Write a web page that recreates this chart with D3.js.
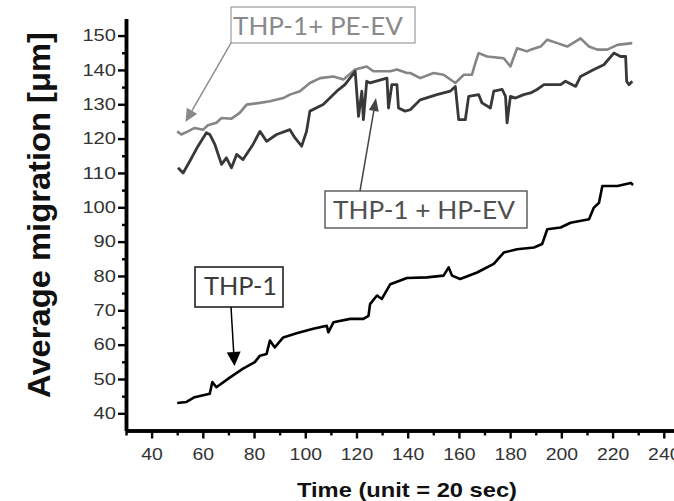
<!DOCTYPE html>
<html>
<head>
<meta charset="utf-8">
<script src="https://cdn.jsdelivr.net/npm/d3@7"></script>
<style>
  html, body { margin: 0; padding: 0; background: #fff; }
  svg { display: block; overflow: hidden; }
</style>
</head>
<body>
<svg id="chart" width="674" height="501"></svg>
<script>
// ---------------- DATA ----------------
const thp1Time = [50, 53.6, 56.8, 62.7, 63.7, 65.3, 70.5, 75.7, 80.3, 82.3, 84.9, 86.2, 88.1, 91.4, 96.6, 103.1, 108.4, 109, 111, 117.5, 122.7, 124.7, 125.3, 128, 129.9, 133.2, 139.7, 147.5, 154, 156, 157.3, 160.5, 167.1, 173.6, 177.5, 182.7, 189.3, 192.5, 194.5, 199.7, 203.6, 210.8, 212.7, 214.7, 216, 221.9, 227.1, 228];
const thp1Values = [43, 43.3, 44.7, 45.7, 49.1, 47.6, 50.4, 53, 54.9, 56.8, 57.3, 61.2, 59.2, 62.1, 63.3, 64.6, 65.5, 63.6, 66.5, 67.5, 67.5, 68.4, 71.8, 74.3, 73.3, 77.6, 79.4, 79.6, 80.1, 82.5, 80.1, 79.1, 81, 83.5, 86.8, 87.8, 88.3, 89.3, 93.6, 94.1, 95.5, 96.5, 99.9, 101.3, 106.2, 106.2, 107.1, 106.5];

const peTime = [50, 51.6, 54.2, 56.8, 60.1, 62, 65.3, 67.3, 71.2, 74.4, 77.1, 82.3, 86.2, 91.4, 94, 97.9, 101.8, 105.8, 111, 114.9, 119.5, 124, 126.6, 133.2, 135.8, 139.7, 141, 144.9, 150.1, 154, 158.6, 161.9, 165.1, 166.4, 167.7, 171, 177.5, 180.1, 182.7, 186.6, 188, 191.9, 194.5, 198.4, 202.3, 207.5, 210.8, 214, 217.9, 221.9, 227.7];
const peValues = [122.1, 121.2, 122.1, 123.1, 122.6, 123.9, 124.6, 126, 125.8, 127.5, 129.9, 130.4, 130.9, 131.8, 132.8, 133.8, 136.2, 137.6, 138.1, 137.2, 140.1, 141, 139.6, 139.6, 140.1, 139.1, 139.1, 137.6, 139.1, 138.6, 136.2, 138.6, 138.6, 142, 144.9, 143.9, 143.4, 141, 146.3, 145.4, 145.9, 146.8, 148.8, 147.8, 146.8, 149.2, 146.8, 145.9, 145.9, 147.3, 147.8];

const hpTime = [50.3, 52.3, 54.9, 58.1, 61.4, 62.7, 64.7, 67.3, 69.2, 71.2, 73.2, 75.7, 79.6, 82.3, 84.9, 88.8, 94, 96, 98.6, 100.5, 101.8, 107, 112.3, 115.5, 119.5, 120.8, 122.1, 122.7, 124, 125.3, 131.9, 132.5, 133.8, 135.8, 136.4, 139, 141, 144.9, 151.4, 156.6, 158.6, 159.9, 162.5, 163.8, 167.7, 169, 172.3, 173.6, 176.9, 178.2, 178.8, 180.1, 182.1, 185.3, 188, 190.5, 193.2, 199.7, 201.6, 205.6, 207.5, 212.7, 216.6, 220.5, 223.1, 225.1, 225.5, 226.4, 227.7];
const hpValues = [111.5, 110, 113.4, 117.8, 121.7, 121.2, 118.3, 112.5, 114.4, 111.5, 115.4, 113.9, 118.3, 122.1, 119.2, 121.2, 122.6, 120.2, 117.8, 122.1, 128, 129.9, 133.8, 135.7, 139.6, 126.5, 133.8, 125.5, 136.7, 136.2, 137.6, 128.9, 135.7, 135.7, 128.9, 128, 128.4, 131.3, 132.8, 133.8, 135.2, 125.5, 125.5, 132.3, 132.8, 130.4, 128.9, 133.8, 134.3, 132.3, 124.6, 132.3, 131.8, 132.8, 133.3, 134.3, 135.7, 135.7, 136.7, 135.2, 138.1, 140.1, 141.5, 144.9, 143.9, 143.9, 136.7, 135.7, 136.7];

const xMajorTicks = [40, 60, 80, 100, 120, 140, 160, 180, 200, 220, 240];
const xMinorTicks = [30, 50, 70, 90, 110, 130, 150, 170, 190, 210, 230];
const yMajorTicks = [40, 50, 60, 70, 80, 90, 100, 110, 120, 130, 140, 150];
const yMinorTicks = [45, 55, 65, 75, 85, 95, 105, 115, 125, 135, 145];

const seriesNames = ["THP-1", "THP-1 + HP-EV", "THP-1+ PE-EV"];
const xTitle = "Time (unit = 20 sec)";
const yTitle = "Average migration [μm]";

// ---------------- LAYOUT ----------------
const svg = d3.select("#chart");
const x = d3.scaleLinear().domain([30, 245]).range([126, 676.6]);
const y = d3.scaleLinear().domain([35, 155]).range([430.5, 18.4]);

const series = [
  { name: seriesNames[2], t: peTime, v: peValues, color: "#858585", width: 2.6 },
  { name: seriesNames[1], t: hpTime, v: hpValues, color: "#383838", width: 2.8 },
  { name: seriesNames[0], t: thp1Time, v: thp1Values, color: "#000000", width: 2.6 }
];

const line = d3.line().x(d => x(d[0])).y(d => y(d[1])).curve(d3.curveLinear);

series.forEach(s => {
  svg.append("path")
    .datum(s.t.map((t, i) => [t, s.v[i]]))
    .attr("fill", "none")
    .attr("stroke", s.color)
    .attr("stroke-width", s.width)
    .attr("stroke-linejoin", "round")
    .attr("d", line);
});

// ---------------- AXES ----------------
function styleAxis(g) {
  g.select(".domain").attr("stroke", "#000").attr("stroke-width", 3.5);
  g.selectAll(".tick line").attr("stroke", "#000").attr("stroke-width", 2.4);
}

const gyMinor = svg.append("g").attr("transform", `translate(${x(30)},0)`)
  .call(d3.axisLeft(y).tickValues(yMinorTicks).tickSize(4).tickSizeOuter(0).tickFormat(""));
styleAxis(gyMinor);
const gy = svg.append("g").attr("transform", `translate(${x(30)},0)`)
  .call(d3.axisLeft(y).tickValues(yMajorTicks).tickSize(8).tickSizeOuter(0).tickPadding(2));
styleAxis(gy);
gy.selectAll(".tick text")
  .attr("font-family", "Liberation Sans, Arial, sans-serif")
  .attr("font-size", 16.5)
  .attr("fill", "#333")
  .attr("textLength", d => String(d).length * 11.2)
  .attr("lengthAdjust", "spacingAndGlyphs");

const gxMinor = svg.append("g").attr("transform", `translate(0,${y(35)})`)
  .call(d3.axisBottom(x).tickValues(xMinorTicks).tickSize(5).tickSizeOuter(0).tickFormat(""));
styleAxis(gxMinor);
const gx = svg.append("g").attr("transform", `translate(0,${y(35)})`)
  .call(d3.axisBottom(x).tickValues(xMajorTicks).tickSize(8).tickSizeOuter(0).tickPadding(10));
styleAxis(gx);
gx.selectAll(".tick text")
  .attr("font-family", "Liberation Sans, Arial, sans-serif")
  .attr("font-size", 16.5)
  .attr("fill", "#333")
  .attr("textLength", d => String(d).length * 10.8)
  .attr("lengthAdjust", "spacingAndGlyphs");

// axis titles
svg.append("text")
  .attr("x", 297).attr("y", 497)
  .attr("font-family", "Liberation Sans, Arial, sans-serif")
  .attr("font-weight", "bold")
  .attr("font-size", 21)
  .attr("fill", "#111")
  .attr("textLength", 220)
  .attr("lengthAdjust", "spacingAndGlyphs")
  .text(xTitle);

svg.append("text")
  .attr("transform", "translate(50,215) rotate(-90)")
  .attr("text-anchor", "middle")
  .attr("font-family", "Liberation Sans, Arial, sans-serif")
  .attr("font-weight", "bold")
  .attr("font-size", 31)
  .attr("fill", "#111")
  .attr("textLength", 366)
  .attr("lengthAdjust", "spacingAndGlyphs")
  .text(yTitle);

// ---------------- ANNOTATIONS ----------------
const annotations = [
  { label: seriesNames[2], box: [231, 7, 184, 36], text: [233, 35, 170], textColor: "#8a8a8a", boxColor: "#9a9a9a", boxW: 1.2,
    from: [231, 43], to: [185.5, 122], arrowColor: "#8a8a8a", head: [13, 6] },
  { label: seriesNames[1], box: [325, 191, 202, 37], text: [333, 219.3, 182], textColor: "#505050", boxColor: "#555", boxW: 1.4,
    from: [360, 191], to: [376, 98], arrowColor: "#444", head: [13, 5] },
  { label: seriesNames[0], box: [195, 267, 88, 40], text: [204, 294.5, 73], textColor: "#3a3a3a", boxColor: "#222", boxW: 1.6,
    from: [231, 307], to: [234.5, 366], arrowColor: "#000", head: [14, 7] }
];

annotations.forEach(a => {
  svg.append("rect")
    .attr("x", a.box[0]).attr("y", a.box[1])
    .attr("width", a.box[2]).attr("height", a.box[3])
    .attr("fill", "#fff")
    .attr("stroke", a.boxColor).attr("stroke-width", a.boxW);
  svg.append("text")
    .attr("x", a.text[0]).attr("y", a.text[1])
    .attr("font-family", "Lato, 'Open Sans', sans-serif")
    .attr("font-size", 25)
    .attr("fill", a.textColor)
    .attr("textLength", a.text[2])
    .attr("lengthAdjust", "spacingAndGlyphs")
    .text(a.label);
  const dx = a.to[0] - a.from[0], dy = a.to[1] - a.from[1];
  const len = Math.hypot(dx, dy), ux = dx / len, uy = dy / len;
  const bx = a.to[0] - ux * a.head[0], by = a.to[1] - uy * a.head[0];
  svg.append("line")
    .attr("x1", a.from[0]).attr("y1", a.from[1])
    .attr("x2", bx).attr("y2", by)
    .attr("stroke", a.arrowColor).attr("stroke-width", 1.5);
  svg.append("path")
    .attr("d", `M${a.to[0]},${a.to[1]} L${bx - uy * a.head[1]},${by + ux * a.head[1]} L${bx + uy * a.head[1]},${by - ux * a.head[1]} Z`)
    .attr("fill", a.arrowColor);
});
</script>
</body>
</html>
